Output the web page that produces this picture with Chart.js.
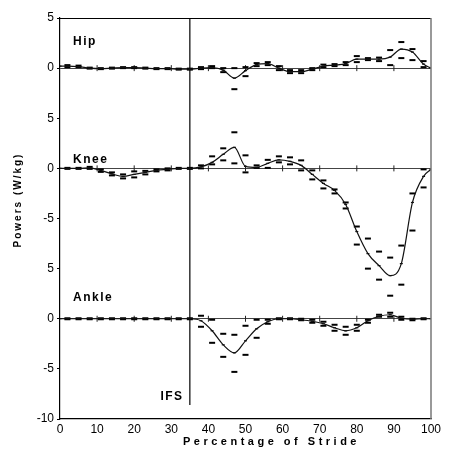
<!DOCTYPE html>
<html>
<head>
<meta charset="utf-8">
<script src="https://cdn.jsdelivr.net/npm/chart.js@4.4.0/dist/chart.umd.min.js"></script>
<style>
    html, body { margin: 0; padding: 0; background: #fff; }
</style>
</head>
<body>
<canvas id="canvaPotencias" width="450" height="449"></canvas>
<script>
// porcentaje de la zancada donde hay media y desviacion
const porcentajeZancada = [2, 5, 8, 11, 14, 17, 20, 23, 26, 29, 32, 35, 38, 41, 44, 47, 50, 53, 56, 59, 62, 65, 68, 71, 74, 77, 80, 83, 86, 89, 92, 95, 98];

// cadera (W/kg)
const caderaMedia = [0.2, 0.15, 0.0, -0.05, 0.0, 0.05, 0.05, 0.0, -0.05, -0.05, -0.1, -0.1, 0.0, 0.05, -0.2, -1.0, -0.25, 0.35, 0.45, 0.0, -0.35, -0.35, -0.1, 0.2, 0.3, 0.45, 0.9, 0.9, 0.9, 1.1, 1.9, 1.6, 0.4];
const caderaSup = [0.3, 0.25, 0.05, 0.0, 0.05, 0.1, 0.1, 0.05, 0.0, 0.0, -0.05, -0.05, 0.1, 0.2, 0.0, 0.0, 0.1, 0.5, 0.6, 0.2, -0.2, -0.2, 0.0, 0.35, 0.4, 0.6, 1.2, 1.0, 1.05, 1.8, 2.6, 1.9, 0.7];
const caderaInf = [0.1, 0.1, -0.05, -0.1, -0.05, 0.0, 0.0, -0.05, -0.1, -0.1, -0.15, -0.15, -0.1, 0.0, -0.4, -2.1, -0.8, 0.2, 0.3, -0.2, -0.5, -0.5, -0.2, 0.1, 0.2, 0.3, 0.6, 0.8, 0.7, 0.3, 1.0, 0.8, 0.1];
const caderaExtremos = [0.2, 0.0];

// rodilla (W/kg)
const rodillaMedia = [0.0, 0.0, 0.05, -0.2, -0.55, -0.8, -0.6, -0.4, -0.2, -0.1, 0.0, 0.0, 0.15, 0.6, 1.4, 2.1, 0.2, 0.1, 0.5, 0.85, 0.7, 0.3, -0.6, -1.5, -2.2, -3.6, -6.3, -8.5, -9.7, -10.7, -9.5, -3.4, -0.8];
const rodillaSup = [0.05, 0.05, 0.15, -0.1, -0.4, -0.6, -0.3, -0.25, -0.1, 0.0, 0.05, 0.05, 0.3, 1.2, 2.0, 3.6, 1.3, 0.3, 0.85, 1.2, 1.1, 0.8, -0.2, -1.2, -2.1, -3.4, -5.8, -7.0, -8.3, -8.9, -7.7, -2.5, -0.1];
const rodillaInf = [-0.05, -0.05, -0.05, -0.35, -0.7, -1.0, -0.9, -0.6, -0.3, -0.2, -0.05, -0.05, 0.0, 0.4, 0.8, 0.5, -0.4, 0.05, 0.05, 0.6, 0.4, -0.2, -1.1, -2.0, -2.5, -4.0, -7.6, -10.0, -11.1, -12.7, -11.6, -6.2, -1.9];
const rodillaExtremos = [0.0, -0.1];

// tobillo (W/kg)
const tobilloMedia = [0, 0, 0, 0, 0, 0, 0, 0, 0, 0, 0, 0, -0.2, -1.2, -2.6, -3.4, -2.2, -1.0, -0.3, 0.0, 0.0, -0.1, -0.25, -0.5, -0.9, -1.2, -0.9, -0.2, 0.25, 0.4, 0.05, -0.05, 0.0];
const tobilloSup = [0.05, 0.05, 0.05, 0.05, 0.05, 0.05, 0.05, 0.05, 0.05, 0.05, 0.05, 0.05, 0.3, -0.1, -1.5, -1.6, -0.7, -0.1, -0.1, 0.05, 0.05, 0.0, -0.1, -0.3, -0.6, -0.8, -0.6, -0.1, 0.4, 0.6, 0.2, 0.0, 0.05];
const tobilloInf = [-0.05, -0.05, -0.05, -0.05, -0.05, -0.05, -0.05, -0.05, -0.05, -0.05, -0.05, -0.05, -0.8, -2.4, -3.8, -5.3, -3.6, -1.9, -0.5, -0.05, -0.05, -0.15, -0.4, -0.7, -1.2, -1.6, -1.2, -0.4, 0.2, 0.2, -0.1, -0.15, -0.05];
const tobilloExtremos = [0.0, 0.0];

// cada articulacion va desplazada sobre un unico eje
const desplazCadera = 25;
const desplazRodilla = 15;
const desplazTobillo = 0;

const ticksX = [0, 10, 20, 30, 40, 50, 60, 70, 80, 90, 100];
const valoresY = [-10, -5, 0, 5, 10, 15, 20, 25, 30];
const etiquetasY = ['-10', '-5', '0', '5', '-5', '0', '5', '0', '5'];
const marcasCero = [10, 20, 30, 40, 50, 60, 70, 80, 90];
const xIFS = 35;
const rangoIFS = [-8.6, 30];

const fuente = '"Liberation Sans", Arial, sans-serif';

function puntos(valores, desplaz) {
    return valores.map((v, i) => ({ x: porcentajeZancada[i], y: v + desplaz }));
}

function curva(valores, extremos, desplaz) {
    return [{ x: 0, y: extremos[0] + desplaz }].concat(puntos(valores, desplaz), [{ x: 100, y: extremos[1] + desplaz }]);
}

function datasetCurva(valores, extremos, desplaz) {
    return {
        data: curva(valores, extremos, desplaz),
        showLine: true,
        cubicInterpolationMode: 'monotone',
        borderColor: '#111',
        borderWidth: 1.2,
        pointStyle: 'line',
        pointRadius: 1.5,
        pointBorderWidth: 1.2,
        pointBorderColor: '#111'
    };
}

function datasetDesvio(valores, desplaz) {
    return {
        data: puntos(valores, desplaz),
        showLine: false,
        pointStyle: 'line',
        pointRadius: 3,
        pointBorderWidth: 2,
        pointBorderColor: '#000'
    };
}

function marcasEje(desplaz) {
    return {
        data: marcasCero.map(v => ({ x: v, y: desplaz })),
        showLine: false,
        pointStyle: 'line',
        rotation: 90,
        pointRadius: 3,
        pointBorderWidth: 1,
        pointBorderColor: '#222'
    };
}

//textos y marco que chart.js no dibuja solo
const textosGrafico = {
    id: 'textosGrafico',
    afterDraw(chart) {
        const { ctx, chartArea, scales: { x, y } } = chart;
        ctx.save();
        ctx.lineWidth = 1;
        ctx.strokeStyle = '#000';
        ctx.beginPath();
        ctx.moveTo(chartArea.left, chartArea.top + 0.5);
        ctx.lineTo(chartArea.right, chartArea.top + 0.5);
        ctx.stroke();
        ctx.strokeStyle = '#777';
        ctx.lineWidth = 1.5;
        ctx.beginPath();
        ctx.moveTo(chartArea.right, chartArea.top);
        ctx.lineTo(chartArea.right, chartArea.bottom);
        ctx.stroke();

        ctx.fillStyle = '#000';
        ctx.textBaseline = 'middle';
        ctx.font = 'bold 12px ' + fuente;
        ctx.letterSpacing = '1.5px';
        ctx.textAlign = 'left';
        ctx.fillText('Hip', x.getPixelForValue(3.5), y.getPixelForValue(27.6));
        ctx.fillText('Knee', x.getPixelForValue(3.5), y.getPixelForValue(15.9));
        ctx.fillText('Ankle', x.getPixelForValue(3.5), y.getPixelForValue(2.1));
        ctx.textAlign = 'right';
        ctx.fillText('IFS', x.getPixelForValue(33.3), y.getPixelForValue(-7.8));

        ctx.textAlign = 'left';
        ctx.font = 'bold 11px ' + fuente;
        ctx.letterSpacing = '3.5px';
        ctx.fillText('Percentage of Stride', 183, 442);

        ctx.translate(18, 200);
        ctx.rotate(-Math.PI / 2);
        ctx.textAlign = 'center';
        ctx.font = 'bold 10px ' + fuente;
        ctx.letterSpacing = '2px';
        ctx.fillText('Powers (W/kg)', 0, 0);
        ctx.restore();
    }
};

document.addEventListener("DOMContentLoaded", function() {
    new Chart(document.getElementById('canvaPotencias'), {
        type: 'scatter',
        data: {
            datasets: [
                datasetCurva(caderaMedia, caderaExtremos, desplazCadera),
                datasetDesvio(caderaSup, desplazCadera),
                datasetDesvio(caderaInf, desplazCadera),
                datasetCurva(rodillaMedia, rodillaExtremos, desplazRodilla),
                datasetDesvio(rodillaSup, desplazRodilla),
                datasetDesvio(rodillaInf, desplazRodilla),
                datasetCurva(tobilloMedia, tobilloExtremos, desplazTobillo),
                datasetDesvio(tobilloSup, desplazTobillo),
                datasetDesvio(tobilloInf, desplazTobillo),
                marcasEje(desplazCadera),
                marcasEje(desplazRodilla),
                marcasEje(desplazTobillo),
                {
                    data: rangoIFS.map(v => ({ x: xIFS, y: v })),
                    showLine: true,
                    borderColor: '#000',
                    borderWidth: 1.2,
                    pointRadius: 0
                }
            ]
        },
        options: {
            responsive: false,
            animation: false,
            devicePixelRatio: 1,
            layout: {
                padding: { left: 0, right: 19, top: 18, bottom: 0 }
            },
            plugins: {
                legend: { display: false },
                tooltip: { enabled: false }
            },
            scales: {
                x: {
                    type: 'linear',
                    min: 0,
                    max: 100,
                    afterBuildTicks: scale => { scale.ticks = ticksX.map(v => ({ value: v })); },
                    afterFit: scale => { scale.height = 30; },
                    ticks: {
                        autoSkip: false,
                        maxRotation: 0,
                        padding: 3,
                        color: '#000',
                        font: { family: fuente, size: 12 }
                    },
                    grid: { display: true, drawOnChartArea: false, drawTicks: false },
                    border: { color: '#000', width: 1.2 }
                },
                y: {
                    type: 'linear',
                    min: -10,
                    max: 30,
                    afterBuildTicks: scale => { scale.ticks = valoresY.map(v => ({ value: v })); },
                    afterFit: scale => { scale.width = 60; },
                    ticks: {
                        padding: 3,
                        color: '#000',
                        font: { family: fuente, size: 12 },
                        callback: (valor) => etiquetasY[valoresY.indexOf(valor)]
                    },
                    grid: {
                        color: ctx => [desplazTobillo, desplazRodilla, desplazCadera].includes(ctx.tick && ctx.tick.value) ? '#444' : 'rgba(0,0,0,0)',
                        lineWidth: 1,
                        drawTicks: true,
                        tickLength: 3,
                        tickColor: '#000'
                    },
                    border: { color: '#000', width: 1.2 }
                }
            }
        },
        plugins: [textosGrafico]
    });
});
</script>
</body>
</html>
